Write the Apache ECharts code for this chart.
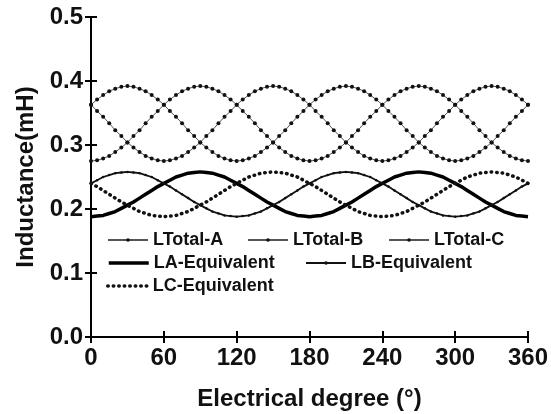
<!DOCTYPE html>
<html>
<head>
<meta charset="utf-8">
<script src="https://cdn.jsdelivr.net/npm/echarts@6/dist/echarts.min.js"></script>
<style>html,body{margin:0;padding:0;background:#fff}#c{width:551px;height:414px}</style>
</head>
<body>
<div id="c"></div>
<script>
var degrees = [0,5,10,15,20,25,30,35,40,45,50,55,60,65,70,75,80,85,90,95,100,105,110,115,120,125,130,135,140,145,150,155,160,165,170,175,180,185,190,195,200,205,210,215,220,225,230,235,240,245,250,255,260,265,270,275,280,285,290,295,300,305,310,315,320,325,330,335,340,345,350,355,360];

var lTotalA = [0.363,0.371,0.378,0.384,0.388,0.391,0.392,0.391,0.388,0.384,0.378,0.371,0.363,0.353,0.344,0.334,0.323,0.314,0.304,0.296,0.289,0.283,0.279,0.276,0.275,0.276,0.279,0.283,0.289,0.296,0.304,0.314,0.323,0.334,0.344,0.353,0.363,
  0.371,0.378,0.384,0.388,0.391,0.392,0.391,0.388,0.384,0.378,0.371,0.363,0.353,0.344,0.334,0.323,0.314,0.304,0.296,0.289,0.283,0.279,0.276,0.275,0.276,0.279,0.283,0.289,0.296,0.304,0.314,0.323,0.334,0.344,0.353,0.363];

var lTotalB = [0.275,0.276,0.279,0.283,0.289,0.296,0.304,0.314,0.323,0.334,0.344,0.353,0.363,0.371,0.378,0.384,0.388,0.391,0.392,0.391,0.388,0.384,0.378,0.371,0.363,0.353,0.344,0.334,0.323,0.314,0.304,0.296,0.289,0.283,0.279,0.276,0.275,
  0.276,0.279,0.283,0.289,0.296,0.304,0.314,0.323,0.334,0.344,0.353,0.363,0.371,0.378,0.384,0.388,0.391,0.392,0.391,0.388,0.384,0.378,0.371,0.363,0.353,0.344,0.334,0.323,0.314,0.304,0.296,0.289,0.283,0.279,0.276,0.275];

var lTotalC = [0.363,0.353,0.344,0.334,0.323,0.314,0.304,0.296,0.289,0.283,0.279,0.276,0.275,0.276,0.279,0.283,0.289,0.296,0.304,0.314,0.323,0.334,0.344,0.353,0.363,0.371,0.378,0.384,0.388,0.391,0.392,0.391,0.388,0.384,0.378,0.371,0.363,
  0.353,0.344,0.334,0.323,0.314,0.304,0.296,0.289,0.283,0.279,0.276,0.275,0.276,0.279,0.283,0.289,0.296,0.304,0.314,0.323,0.334,0.344,0.353,0.363,0.371,0.378,0.384,0.388,0.391,0.392,0.391,0.388,0.384,0.378,0.371,0.363];

var lAEquivalent = [0.188,0.189,0.190,0.193,0.196,0.201,0.206,0.211,0.217,0.223,0.229,0.235,0.240,0.245,0.250,0.253,0.256,0.257,0.258,0.257,0.256,0.253,0.250,0.245,0.240,0.235,0.229,0.223,0.217,0.211,0.206,0.201,0.196,0.193,0.190,0.189,0.188,
  0.189,0.190,0.193,0.196,0.201,0.206,0.211,0.217,0.223,0.229,0.235,0.240,0.245,0.250,0.253,0.256,0.257,0.258,0.257,0.256,0.253,0.250,0.245,0.240,0.235,0.229,0.223,0.217,0.211,0.206,0.201,0.196,0.193,0.190,0.189,0.188];

var lBEquivalent = [0.240,0.245,0.250,0.253,0.256,0.257,0.258,0.257,0.256,0.253,0.250,0.245,0.240,0.235,0.229,0.223,0.217,0.211,0.206,0.201,0.196,0.193,0.190,0.189,0.188,0.189,0.190,0.193,0.196,0.201,0.206,0.211,0.217,0.223,0.229,0.235,0.240,
  0.245,0.250,0.253,0.256,0.257,0.258,0.257,0.256,0.253,0.250,0.245,0.240,0.235,0.229,0.223,0.217,0.211,0.206,0.201,0.196,0.193,0.190,0.189,0.188,0.189,0.190,0.193,0.196,0.201,0.206,0.211,0.217,0.223,0.229,0.235,0.240];

var lCEquivalent = [0.240,0.235,0.229,0.223,0.217,0.211,0.206,0.201,0.196,0.193,0.190,0.189,0.188,0.189,0.190,0.193,0.196,0.201,0.206,0.211,0.217,0.223,0.229,0.235,0.240,0.245,0.250,0.253,0.256,0.257,0.258,0.257,0.256,0.253,0.250,0.245,0.240,
  0.235,0.229,0.223,0.217,0.211,0.206,0.201,0.196,0.193,0.190,0.189,0.188,0.189,0.190,0.193,0.196,0.201,0.206,0.211,0.217,0.223,0.229,0.235,0.240,0.245,0.250,0.253,0.256,0.257,0.258,0.257,0.256,0.253,0.250,0.245,0.240];

var xTicks = [0,60,120,180,240,300,360];
var yTicks = [0.0,0.1,0.2,0.3,0.4,0.5];
var seriesNames = ['LTotal-A','LTotal-B','LTotal-C','LA-Equivalent','LB-Equivalent','LC-Equivalent'];

function pairs(v){ return degrees.map(function(d,i){ return [d, v[i]]; }); }

var FONT = '"Liberation Sans", Arial, sans-serif';
var chart = echarts.init(document.getElementById('c'), null, {renderer:'canvas'});

var axisLine = {show:true, lineStyle:{color:'#000', width:2}};
var tick = {show:true, inside:true, length:6, lineStyle:{color:'#000', width:2}};

function legendAt(name, left, cy, opts){
  opts = opts || {};
  var h = opts.itemHeight || 4.5;
  var l = {
    data:[name], left:left, top:cy - 9, itemWidth:40, itemHeight:h, itemGap:0, padding:0,
    textStyle:{fontFamily:FONT, fontWeight:'bold', fontSize:18, color:'#111', lineHeight:18},
    selectedMode:false
  };
  if (opts.hideSymbol) l.itemStyle = {opacity:0};
  if (opts.lineStyle) l.lineStyle = opts.lineStyle;
  return l;
}

var option = {
  backgroundColor:'#fff',
  animation:false,
  grid:{left:91, right:23, top:17, bottom:77, containLabel:false, outerBoundsMode:'none'},
  legend:[
    legendAt(seriesNames[0], 107, 240),
    legendAt(seriesNames[1], 247, 240),
    legendAt(seriesNames[2], 388, 240),
    legendAt(seriesNames[3], 107, 263, {itemHeight:14, hideSymbol:true, lineStyle:{width:3.5, color:'#000'}}),
    legendAt(seriesNames[4], 305, 263),
    legendAt(seriesNames[5], 106, 286, {itemHeight:14, hideSymbol:true, lineStyle:{width:3.5, color:'#111', type:[0.5,5], cap:'round'}})
  ],
  xAxis:[{
    type:'value', min:xTicks[0], max:xTicks[xTicks.length-1], interval:60, position:'bottom',
    name:'Electrical degree (°)', nameLocation:'middle', nameGap:50,
    nameTextStyle:{fontFamily:FONT, fontWeight:'bold', fontSize:24, color:'#111'},
    axisLine:axisLine, axisTick:tick, splitLine:{show:false},
    axisLabel:{fontFamily:FONT, fontWeight:'bold', fontSize:24, color:'#111', margin:9}
  },{
    type:'value', min:xTicks[0], max:xTicks[xTicks.length-1], interval:60, position:'top',
    axisLine:axisLine, axisTick:tick, splitLine:{show:false}, axisLabel:{show:false}
  }],
  yAxis:[{
    type:'value', min:yTicks[0], max:yTicks[yTicks.length-1], interval:0.1, position:'left',
    name:'Inductance(mH)', nameLocation:'middle', nameGap:49,
    nameTextStyle:{fontFamily:FONT, fontWeight:'bold', fontSize:24, color:'#111'},
    axisLine:axisLine, axisTick:tick, splitLine:{show:false},
    axisLabel:{fontFamily:FONT, fontWeight:'bold', fontSize:24, color:'#111', margin:8,
      formatter:function(v){ return v.toFixed(1); }}
  },{
    type:'value', min:yTicks[0], max:yTicks[yTicks.length-1], interval:0.1, position:'right',
    axisLine:axisLine, axisTick:tick, splitLine:{show:false}, axisLabel:{show:false}
  }],
  series:[
    {name:seriesNames[0], type:'line', data:pairs(lTotalA), symbol:'circle', symbolSize:4, showAllSymbol:true,
      itemStyle:{color:'#111'}, lineStyle:{color:'#555', width:1}},
    {name:seriesNames[1], type:'line', data:pairs(lTotalB), symbol:'circle', symbolSize:4, showAllSymbol:true,
      itemStyle:{color:'#111'}, lineStyle:{color:'#555', width:1}},
    {name:seriesNames[2], type:'line', data:pairs(lTotalC), symbol:'circle', symbolSize:4, showAllSymbol:true,
      itemStyle:{color:'#111'}, lineStyle:{color:'#555', width:1}},
    {name:seriesNames[3], type:'line', data:pairs(lAEquivalent), symbol:'none',
      itemStyle:{color:'#000'}, lineStyle:{color:'#000', width:3.5}},
    {name:seriesNames[4], type:'line', data:pairs(lBEquivalent), symbol:'circle', symbolSize:2.5, showAllSymbol:true,
      itemStyle:{color:'#111'}, lineStyle:{color:'#111', width:1.8}},
    {name:seriesNames[5], type:'line', data:pairs(lCEquivalent), symbol:'none',
      itemStyle:{color:'#111'}, lineStyle:{color:'#111', width:3.5, type:[0.5,5], cap:'round'}}
  ]
};
chart.setOption(option);
</script>
</body>
</html>
